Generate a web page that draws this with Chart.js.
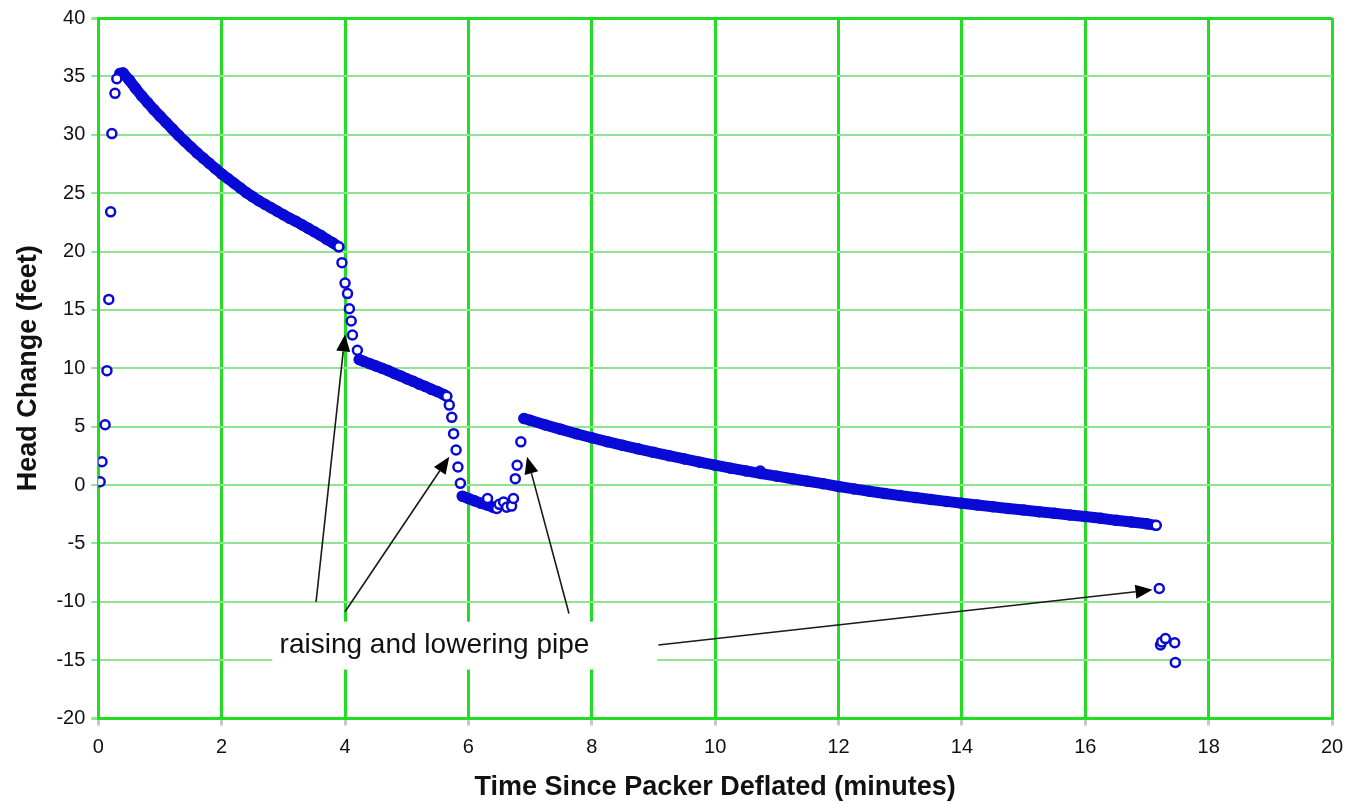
<!DOCTYPE html>
<html>
<head>
<meta charset="utf-8">
<script src="https://cdn.jsdelivr.net/npm/chart.js@4/dist/chart.umd.min.js"></script>
<style>
  html, body { margin: 0; padding: 0; background: #fff; }
  #wrap { width: 1347px; height: 804px; }
</style>
</head>
<body>
<div id="wrap"><canvas id="c" width="1347" height="804"></canvas></div>
<script>
// ---- Data (time in minutes, head change in feet) ----
const riseTime = [0.03, 0.06, 0.11, 0.14, 0.17, 0.20, 0.22, 0.27, 0.30];
const riseHead = [0.28, 2.0, 5.17, 9.8, 15.9, 23.4, 30.1, 33.55, 34.8];

const curve1Time = [0.35, 0.4, 0.5, 0.6, 0.7, 0.8, 0.9, 1.0, 1.1, 1.2, 1.3, 1.4, 1.5, 1.6, 1.7, 1.8, 1.9, 2.0,
  2.1, 2.2, 2.3, 2.4, 2.5, 2.6, 2.7, 2.8, 2.9, 3.0, 3.1, 3.2, 3.3, 3.4, 3.5, 3.6, 3.7, 3.8, 3.9];
const curve1Head = [35.25, 35.3, 34.7, 34.0, 33.35, 32.75, 32.15, 31.6, 31.05, 30.5, 29.95, 29.45, 28.95, 28.45,
  28.0, 27.55, 27.1, 26.65, 26.25, 25.85, 25.45, 25.05, 24.7, 24.35, 24.05, 23.75, 23.45, 23.15, 22.85, 22.6,
  22.3, 22.0, 21.7, 21.4, 21.05, 20.75, 20.4];

const drop1Time = [3.95, 4.0, 4.04, 4.07, 4.1, 4.12, 4.2];
const drop1Head = [19.05, 17.3, 16.4, 15.1, 14.05, 12.85, 11.55];

const curve2Time = [4.23, 4.3, 4.4, 4.5, 4.6, 4.7, 4.8, 4.9, 5.0, 5.1, 5.2, 5.3, 5.4, 5.5, 5.6, 5.65];
const curve2Head = [10.75, 10.6, 10.4, 10.2, 10.0, 9.8, 9.55, 9.35, 9.1, 8.9, 8.65, 8.45, 8.2, 8.0, 7.75, 7.6];

const drop2Time = [5.69, 5.73, 5.76, 5.8, 5.83, 5.87];
const drop2Head = [6.85, 5.8, 4.4, 3.0, 1.55, 0.15];

const lowTime = [5.9, 6.0, 6.1, 6.2, 6.3, 6.4, 6.46];
const lowHead = [-0.95, -1.15, -1.35, -1.55, -1.7, -1.9, -2.0];

const lowScatterTime = [6.31, 6.5, 6.57, 6.62, 6.7, 6.73];
const lowScatterHead = [-1.15, -1.65, -1.45, -1.9, -1.8, -1.15];

const rise2Time = [6.76, 6.79, 6.85];
const rise2Head = [0.55, 1.7, 3.7];

const curve3Time = [6.9, 7.0, 7.25, 7.5, 7.75, 8.0, 8.25, 8.5, 8.75, 9.0, 9.25, 9.5, 9.75, 10.0, 10.25, 10.5,
  10.75, 11.0, 11.25, 11.5, 11.75, 12.0, 12.25, 12.5, 12.75, 13.0, 13.25, 13.5, 13.75, 14.0, 14.25, 14.5, 14.75,
  15.0, 15.25, 15.5, 15.75, 16.0, 16.25, 16.5, 16.75, 17.0, 17.15];
const curve3Head = [5.7, 5.55, 5.15, 4.77, 4.4, 4.05, 3.72, 3.4, 3.1, 2.8, 2.52, 2.24, 1.96, 1.7, 1.45, 1.21,
  0.98, 0.76, 0.54, 0.33, 0.12, -0.12, -0.33, -0.53, -0.72, -0.9, -1.07, -1.24, -1.4, -1.56, -1.71, -1.86, -2.0,
  -2.14, -2.28, -2.42, -2.56, -2.7, -2.84, -3.02, -3.17, -3.32, -3.45];

const bumpTime = [10.73];
const bumpHead = [1.2];

const tailTime = [17.2, 17.22, 17.24, 17.3, 17.45, 17.46];
const tailHead = [-8.86, -13.7, -13.43, -13.15, -13.5, -15.2];

const xTicks = [0, 2, 4, 6, 8, 10, 12, 14, 16, 18, 20];
const yTicks = [-20, -15, -10, -5, 0, 5, 10, 15, 20, 25, 30, 35, 40];

// Annotation (data coordinates)
const noteText = 'raising and lowering pipe';
const noteAt = [5.45, -13.7];
const noteBox = [2.82, -11.7, 9.06, -15.8];
const arrowStarts = [[3.53, -10.0], [4.0, -10.85], [7.63, -11.0], [9.08, -13.7]];
const arrowTips = [[4.0, 12.9], [5.69, 2.43], [6.95, 2.43], [17.09, -8.97]];

// ---- Helpers ----
const BLUE = 'rgb(10,10,215)';
function pts(t, h) { return t.map((v, i) => ({ x: v, y: h[i] })); }
function band(t, h) {
  return {
    data: pts(t, h), showLine: true, borderColor: BLUE, borderWidth: 11,
    borderCapStyle: 'round', borderJoinStyle: 'round',
    pointRadius: 4.5, pointBorderWidth: 2.5, pointBorderColor: BLUE,
    pointBackgroundColor: (ctx) => ctx.dataIndex === h.length - 1 ? '#fff' : BLUE,
    tension: 0, order: 2
  };
}
function scatter(t, h, fill, order) {
  return {
    data: pts(t, h), showLine: false,
    pointRadius: 4.5, pointBorderWidth: 2.5, pointBorderColor: BLUE,
    pointBackgroundColor: fill || '#fff', order: order || 1
  };
}

const annotationPlugin = {
  id: 'notes',
  afterDraw(chart) {
    const { ctx, scales: { x, y } } = chart;
    ctx.save();
    const bx1 = x.getPixelForValue(noteBox[0]), by1 = y.getPixelForValue(noteBox[1]);
    const bx2 = x.getPixelForValue(noteBox[2]), by2 = y.getPixelForValue(noteBox[3]);
    ctx.fillStyle = '#fff';
    ctx.fillRect(bx1, by1, bx2 - bx1, by2 - by1);
    ctx.fillStyle = '#111';
    ctx.font = '28px "Liberation Sans", Arial, sans-serif';
    ctx.textAlign = 'center';
    ctx.textBaseline = 'middle';
    ctx.fillText(noteText, x.getPixelForValue(noteAt[0]), y.getPixelForValue(noteAt[1]));
    ctx.strokeStyle = '#1a1a1a';
    ctx.fillStyle = '#000';
    ctx.lineWidth = 1.6;
    arrowStarts.forEach((s, i) => {
      const x0 = x.getPixelForValue(s[0]), y0 = y.getPixelForValue(s[1]);
      const x1 = x.getPixelForValue(arrowTips[i][0]), y1 = y.getPixelForValue(arrowTips[i][1]);
      const ang = Math.atan2(y1 - y0, x1 - x0);
      const L = 17, W = 7;
      const bxp = x1 - L * Math.cos(ang), byp = y1 - L * Math.sin(ang);
      ctx.beginPath();
      ctx.moveTo(x0, y0);
      ctx.lineTo(bxp, byp);
      ctx.stroke();
      ctx.beginPath();
      ctx.moveTo(x1, y1);
      ctx.lineTo(bxp + W * Math.sin(ang), byp - W * Math.cos(ang));
      ctx.lineTo(bxp - W * Math.sin(ang), byp + W * Math.cos(ang));
      ctx.closePath();
      ctx.fill();
    });
    ctx.restore();
  }
};

const FONT = '"Liberation Sans", Arial, sans-serif';
const GREEN = '#22dd22';
const LIGHT = '#8fe48f';

new Chart(document.getElementById('c'), {
  type: 'scatter',
  data: {
    datasets: [
      band(curve1Time, curve1Head),
      band(curve2Time, curve2Head),
      band(lowTime, lowHead),
      band(curve3Time, curve3Head),
      scatter(riseTime, riseHead),
      scatter(drop1Time, drop1Head),
      scatter(drop2Time, drop2Head),
      scatter(lowScatterTime, lowScatterHead),
      scatter(rise2Time, rise2Head),
      scatter(bumpTime, bumpHead, '#fff', 3),
      scatter(tailTime, tailHead)
    ]
  },
  options: {
    responsive: false,
    animation: false,
    layout: { padding: { top: 5, right: 0, left: 12, bottom: 0 } },
    plugins: { legend: { display: false }, tooltip: { enabled: false } },
    scales: {
      x: {
        type: 'linear', min: 0, max: 20,
        afterBuildTicks: (s) => { s.ticks = xTicks.map(v => ({ value: v })); },
        afterFit: (s) => { s.paddingRight = 15; },
        ticks: { font: { family: FONT, size: 20 }, color: '#111', padding: 10 },
        grid: { color: GREEN, lineWidth: 3, tickLength: 7, tickColor: '#c8c8c8' },
        border: { color: GREEN, width: 3 },
        title: { display: true, text: 'Time Since Packer Deflated (minutes)',
          font: { family: FONT, size: 27, weight: 'bold' }, color: '#111', padding: { top: 2, bottom: 0 } }
      },
      y: {
        type: 'linear', min: -20, max: 40,
        afterBuildTicks: (s) => { s.ticks = yTicks.map(v => ({ value: v })); },
        ticks: { font: { family: FONT, size: 20 }, color: '#111', padding: 6 },
        grid: {
          color: (c) => (c.tick && (c.tick.value === 40 || c.tick.value === -20)) ? GREEN : LIGHT,
          lineWidth: (c) => (c.tick && (c.tick.value === 40 || c.tick.value === -20)) ? 3 : 2,
          tickLength: 7, tickColor: LIGHT
        },
        border: { color: GREEN, width: 3 },
        title: { display: true, text: 'Head Change (feet)',
          font: { family: FONT, size: 27, weight: 'bold' }, color: '#111', padding: { top: 0, bottom: 6 } }
      }
    }
  },
  plugins: [annotationPlugin]
});
</script>
</body>
</html>
